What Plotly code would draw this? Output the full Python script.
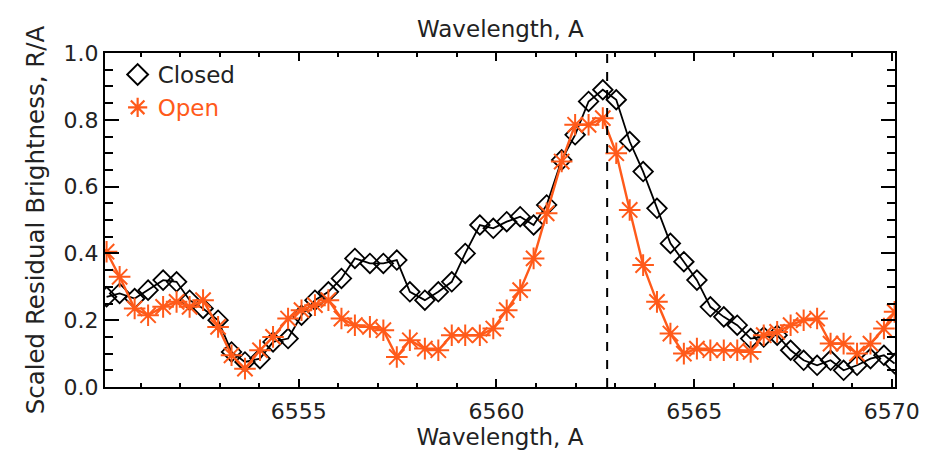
import plotly.graph_objects as go

wavelength = [6550.14, 6550.47, 6550.85, 6551.19, 6551.57, 6551.91, 6552.24, 6552.58, 6552.96, 6553.30,
              6553.64, 6554.02, 6554.35, 6554.73, 6555.07, 6555.41, 6555.75, 6556.08, 6556.42, 6556.80,
              6557.14, 6557.48, 6557.81, 6558.19, 6558.53, 6558.87, 6559.21, 6559.58, 6559.92, 6560.26,
              6560.60, 6560.94, 6561.27, 6561.65, 6561.99, 6562.33, 6562.69, 6563.03, 6563.37, 6563.71,
              6564.06, 6564.40, 6564.74, 6565.07, 6565.41, 6565.75, 6566.09, 6566.43, 6566.76, 6567.10,
              6567.44, 6567.77, 6568.11, 6568.45, 6568.78, 6569.12, 6569.46, 6569.80, 6570.07]

closed = [0.27, 0.28, 0.265, 0.29, 0.32, 0.315, 0.26, 0.235, 0.20, 0.105,
          0.075, 0.085, 0.135, 0.145, 0.215, 0.26, 0.285, 0.325, 0.385, 0.37,
          0.37, 0.38, 0.285, 0.26, 0.285, 0.315, 0.40, 0.485, 0.475, 0.495,
          0.51, 0.485, 0.545, 0.68, 0.755, 0.855, 0.89, 0.86, 0.735, 0.645,
          0.535, 0.43, 0.375, 0.32, 0.24, 0.21, 0.185, 0.145, 0.15, 0.155,
          0.11, 0.08, 0.065, 0.08, 0.05, 0.065, 0.085, 0.095, 0.07]

open_ = [0.405, 0.33, 0.235, 0.215, 0.24, 0.255, 0.24, 0.26, 0.18, 0.095,
         0.055, 0.11, 0.15, 0.205, 0.23, 0.245, 0.26, 0.205, 0.185, 0.18,
         0.17, 0.09, 0.14, 0.115, 0.11, 0.155, 0.155, 0.155, 0.175, 0.23,
         0.29, 0.385, 0.52, 0.675, 0.785, 0.785, 0.805, 0.70, 0.53, 0.365,
         0.255, 0.16, 0.10, 0.115, 0.11, 0.11, 0.11, 0.105, 0.155, 0.165,
         0.185, 0.20, 0.205, 0.13, 0.13, 0.10, 0.13, 0.175, 0.225]

line_center = 6562.8
x_range = [6550.1, 6570.08]
y_range = [0.0, 1.0]
x_ticks = [6555, 6560, 6565, 6570]
y_ticks = [0.0, 0.2, 0.4, 0.6, 0.8, 1.0]

ORANGE = "#FF5A1A"
FONT = "DejaVu Sans"
TXT = "#222222"

fig = go.Figure()
fig.add_trace(go.Scatter(x=wavelength, y=closed, mode="lines+markers", showlegend=False,
                         line=dict(color="black", width=1.8),
                         marker=dict(symbol="diamond-open", size=15, color="black",
                                     line=dict(width=1.8, color="black"))))
fig.add_trace(go.Scatter(x=wavelength, y=open_, mode="lines+markers", showlegend=False,
                         line=dict(color=ORANGE, width=2.4),
                         marker=dict(symbol="asterisk-open", size=18, color=ORANGE,
                                     line=dict(width=2, color=ORANGE))))
# legend entries (marker only)
fig.add_trace(go.Scatter(x=[None], y=[None], mode="markers", name="Closed",
                         marker=dict(symbol="diamond-open", size=17, color="black",
                                     line=dict(width=2, color="black"))))
fig.add_trace(go.Scatter(x=[None], y=[None], mode="markers", name="<span style='color:%s'>Open</span>" % ORANGE,
                         marker=dict(symbol="asterisk-open", size=20, color=ORANGE,
                                     line=dict(width=2.2, color=ORANGE))))

fig.add_shape(type="line", x0=line_center, x1=line_center, y0=0, y1=1, xref="x", yref="paper",
              line=dict(color="black", width=2, dash="dash"))

fig.add_annotation(text="Wavelength, A", x=0.5, y=1.0, xref="paper", yref="paper",
                   yshift=9, showarrow=False, yanchor="bottom",
                   font=dict(family=FONT, size=23, color=TXT))

axis_common = dict(showline=True, linecolor="black", linewidth=2, mirror="allticks",
                   ticks="inside", tickcolor="black", tickwidth=2, showgrid=False,
                   zeroline=False, tickfont=dict(family=FONT, size=22, color=TXT))

fig.update_xaxes(range=x_range, tickvals=x_ticks, ticklen=8, ticklabelstandoff=4,
                 minor=dict(ticks="inside", dtick=1, tick0=6550, ticklen=4, tickwidth=2, tickcolor="black"),
                 title=dict(text="Wavelength, A", font=dict(family=FONT, size=23, color=TXT), standoff=4),
                 **axis_common)
fig.update_yaxes(range=y_range, tickvals=y_ticks, ticktext=["0.0", "0.2", "0.4", "0.6", "0.8", "1.0"],
                 ticklen=14,
                 minor=dict(ticks="inside", dtick=0.05, tick0=0, ticklen=8, tickwidth=2, tickcolor="black"),
                 title=dict(text="Scaled Residual Brightness, R/A", font=dict(family=FONT, size=24.5, color=TXT),
                            standoff=12),
                 **axis_common)

fig.update_layout(width=935, height=461, margin=dict(l=105, r=40, t=53, b=74),
                  plot_bgcolor="white", paper_bgcolor="white",
                  font=dict(family=FONT, size=22, color=TXT),
                  legend=dict(x=0.016, y=1.0, xanchor="left", yanchor="top", bgcolor="rgba(0,0,0,0)",
                              font=dict(family=FONT, size=23), itemwidth=30, tracegroupgap=0))

fig.write_html("out.html")
